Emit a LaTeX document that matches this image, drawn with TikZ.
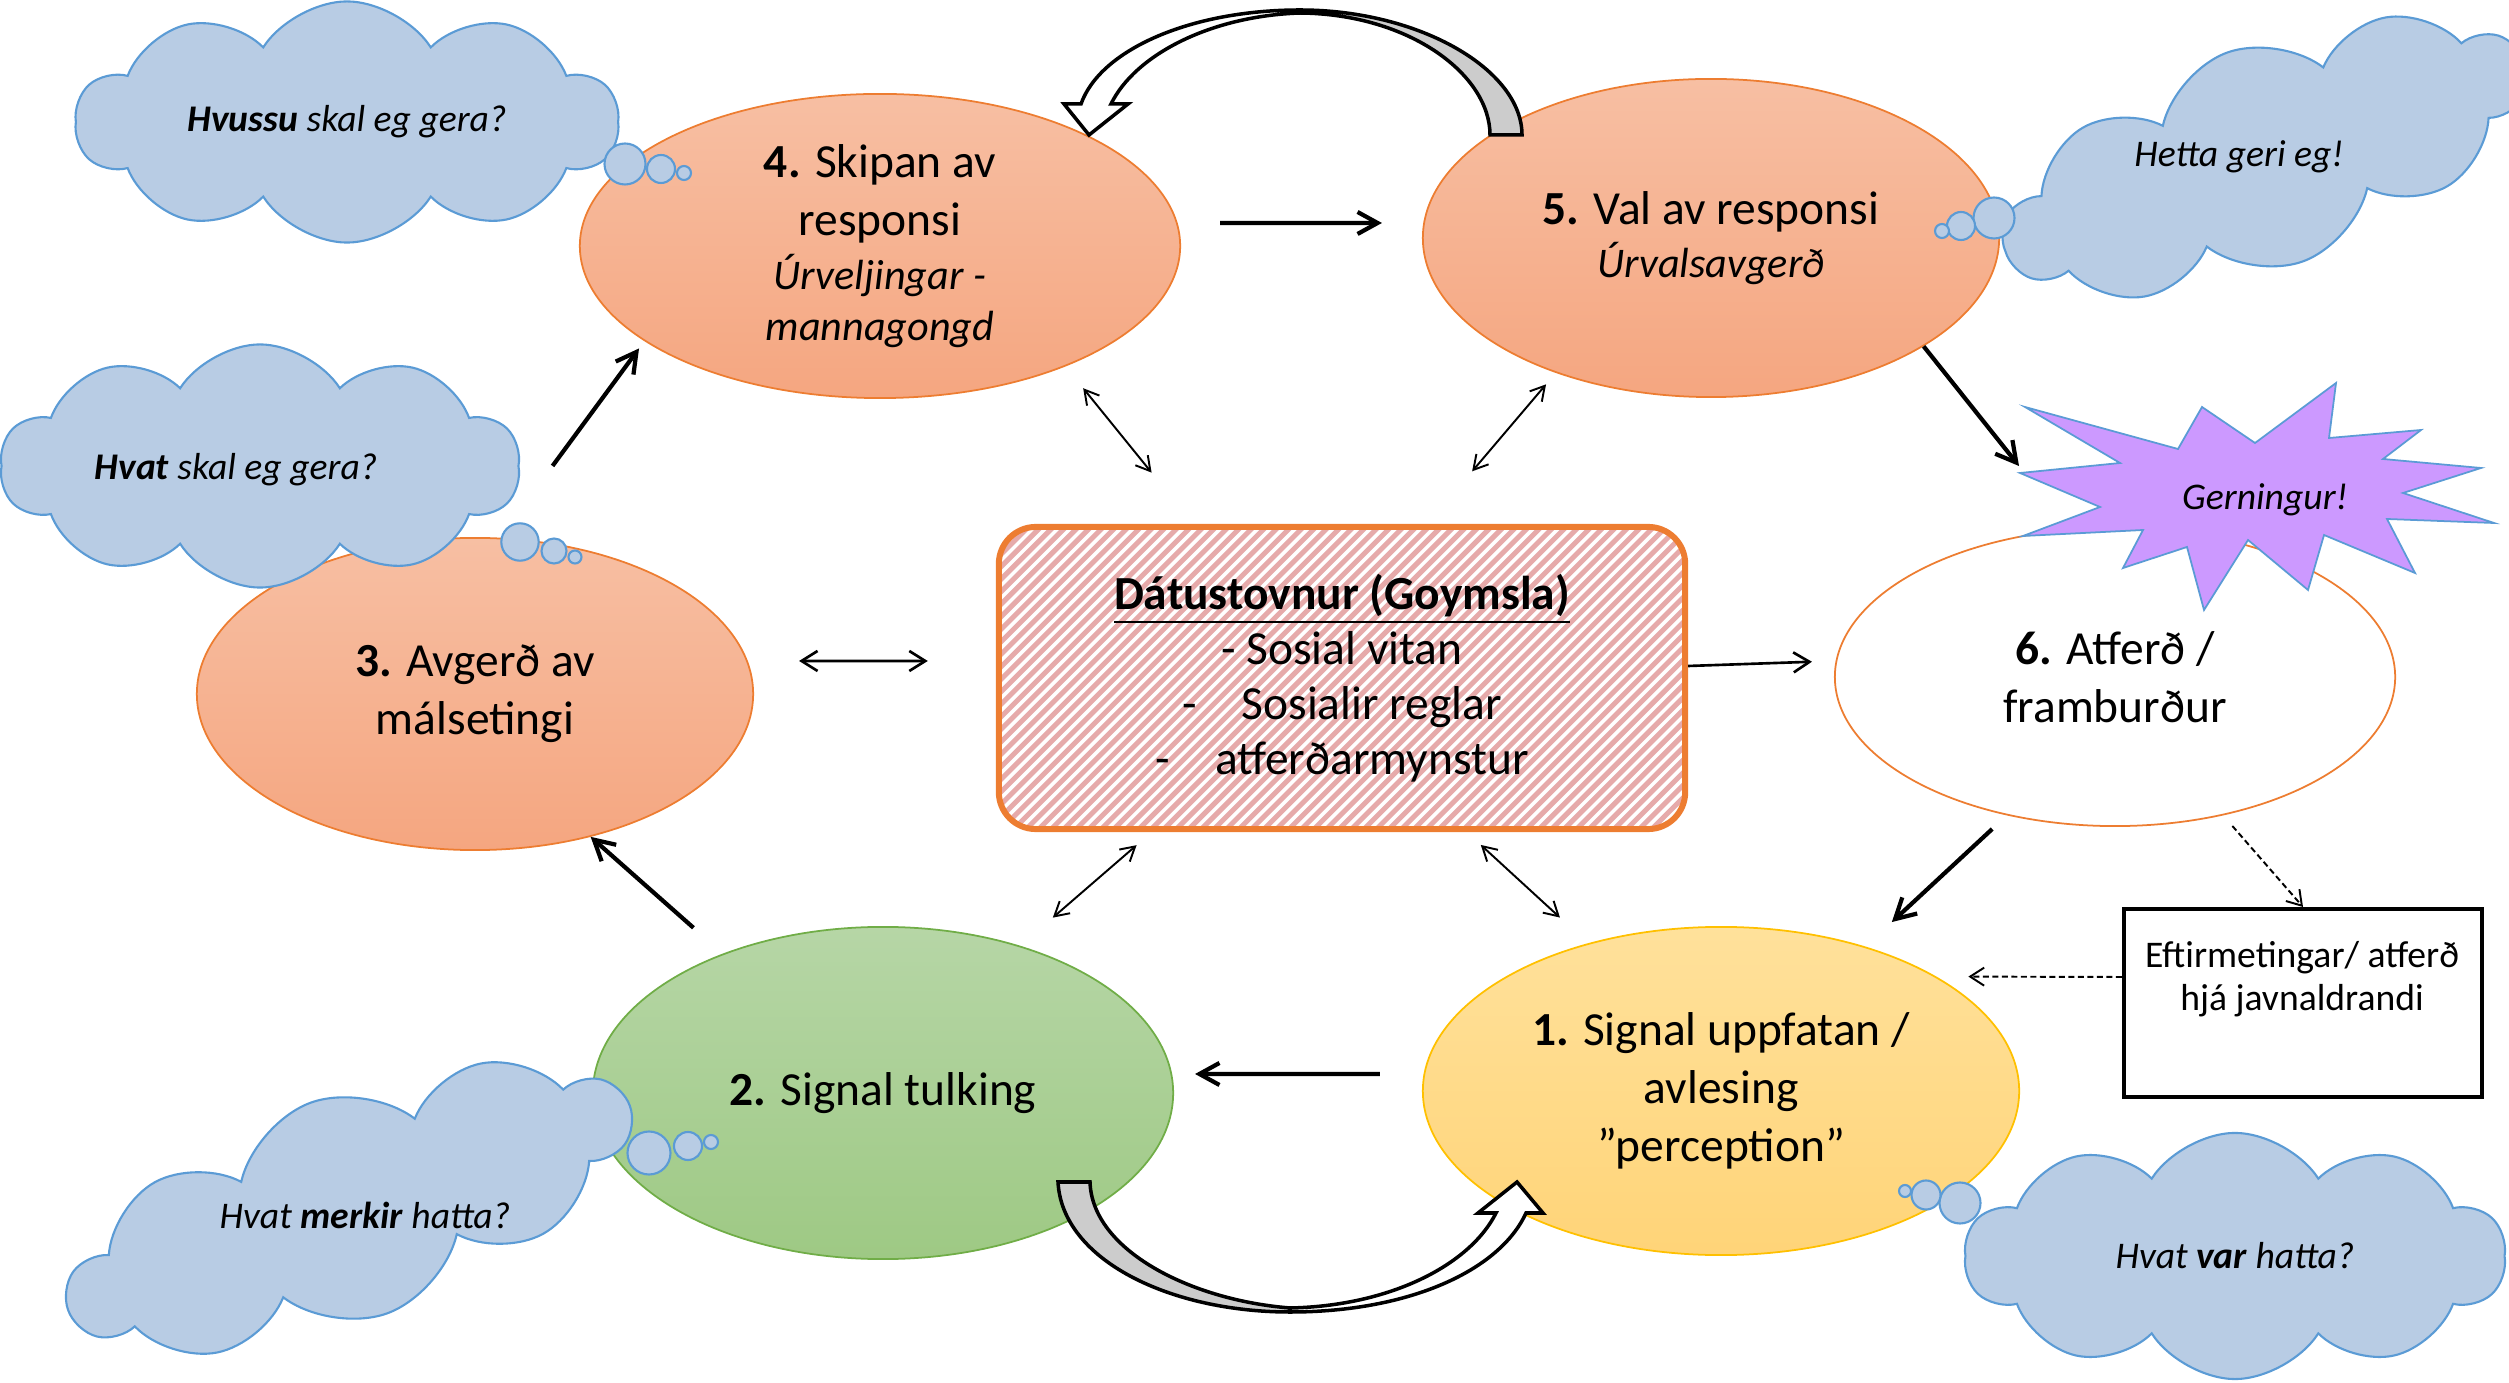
\documentclass[tikz,border=0pt]{standalone}
\usepackage{fontspec}
\setmainfont{Carlito}
\usetikzlibrary{shapes.geometric,shapes.symbols,arrows.meta}

\definecolor{oraline}{RGB}{237,125,49}
\definecolor{oratop}{RGB}{247,191,163}
\definecolor{orabot}{RGB}{245,166,128}
\definecolor{grnline}{RGB}{112,173,71}
\definecolor{grntop}{RGB}{182,214,166}
\definecolor{grnbot}{RGB}{158,201,132}
\definecolor{ylwline}{RGB}{255,192,0}
\definecolor{ylwtop}{RGB}{255,225,155}
\definecolor{ylwbot}{RGB}{255,212,120}
\definecolor{cloudfill}{RGB}{184,204,228}
\definecolor{cloudline}{RGB}{91,155,213}
\definecolor{starfill}{RGB}{204,153,255}
\definecolor{datpink}{RGB}{230,170,170}
\definecolor{bandgray}{RGB}{204,204,204}

\newcommand{\subline}[1]{{\fontsize{12}{14.5}\selectfont\itshape #1}}

\begin{document}
\begin{tikzpicture}[x=0.01cm,y=-0.01cm,
    stage/.style={ellipse,inner sep=0pt,align=center,line width=0.5pt,
      font=\fontsize{13.5}{16.5}\selectfont},
    warm/.style={stage,draw=oraline,top color=oratop,bottom color=orabot},
    hatched/.style={path picture={
      \foreach \s in {0,12.5,...,1070}
        \draw[datpink,line width=1.42pt]
          ([xshift=\s*0.1mm-36mm]path picture bounding box.south west) -- ++(36mm,36mm);}},
    thought/.style={cloud,cloud puffs=10,cloud puff arc=115,cloud ignores aspect,
      draw=cloudline,fill=cloudfill,line width=0.6pt,inner sep=0pt,
      font=\fontsize{10.7}{12.8}\selectfont\itshape},
    thinktext/.style={font=\fontsize{10.7}{12.8}\selectfont\itshape,inner sep=0pt},
    bubble/.style={draw=cloudline,fill=cloudfill,line width=0.6pt},
    cyc/.style={->,line width=1.2pt,>={Straight Barb[length=2mm,width=2.2mm]}},
    link/.style={<->,line width=0.55pt,>={Straight Barb[length=1.4mm,width=1.6mm]}},
    wide/.style={line width=0.75pt,>={Straight Barb[length=1.6mm,width=2mm]}},
    peer/.style={->,line width=0.55pt,dash pattern=on 0.6mm off 0.35mm,
      >={Straight Barb[length=1.4mm,width=1.8mm]}},
    band/.style={draw=black,line width=1pt,line join=miter}]
  \useasboundingbox (0,0) rectangle (2509,1383);

  % the six stages
  \node[warm,minimum width=6cm,minimum height=3.04cm] (skipan) at (880,246)
    {\textbf{4.} Skipan av\\responsi\\[-1pt]\subline{Úrveljingar -}\\[-2pt]\subline{mannagongd}};
  \node[warm,minimum width=5.76cm,minimum height=3.18cm] (val) at (1711,238)
    {\textbf{5.} Val av responsi\\[-1.5pt]\subline{Úrvalsavgerð}};
  \node[warm,minimum width=5.56cm,minimum height=3.12cm] (malset) at (475,694)
    {\textbf{3.} Avgerð av\\málsetingi};
  \node[stage,draw=grnline,top color=grntop,bottom color=grnbot,
    minimum width=5.8cm,minimum height=3.32cm] (tulking) at (883,1093)
    {\textbf{2.} Signal tulking};
  \node[stage,draw=ylwline,top color=ylwtop,bottom color=ylwbot,
    minimum width=5.96cm,minimum height=3.28cm] (uppfatan) at (1721,1091)
    {\textbf{1.} Signal uppfatan /\\avlesing\\”perception”};
  \node[stage,draw=oraline,fill=white,minimum width=5.6cm,minimum height=2.98cm]
    (atferd) at (2115,677) {\textbf{6.} Atferð /\\framburður};

  % storage in the middle
  \node[draw=oraline,line width=1.7pt,rounded corners=3.7mm,fill=white,hatched,
    minimum width=6.86cm,minimum height=3.02cm,align=center,
    font=\fontsize{13.5}{15.6}\selectfont] (dat) at (1342,678)
    {\underline{\textbf{Dátustovnur (Goymsla)}}\\- Sosial vitan\\
     -\hspace{0.95em}Sosialir reglar\\-\hspace{0.95em}atferðarmynstur};

  % peers box
  \node[draw,line width=1.1pt,minimum width=3.58cm,minimum height=1.88cm]
    (eftir) at (2303,1003) {};
  \node[font=\fontsize{10.7}{12.3}\selectfont,align=center,inner sep=0pt]
    (eftirtxt) at (2302,979) {Eftirmetingar/ atferð\\hjá javnaldrandi};

  % big turning arrows
  \filldraw[band,fill=bandgray] (1300,10) .. controls (1420,10) and (1522,70) .. (1522,135)
    -- (1490,135) .. controls (1490,75) and (1410,14) .. (1300,13) -- cycle;
  \filldraw[band,fill=white] (1300,10) .. controls (1190,10) and (1100,50) .. (1081,104)
    -- (1064,104) -- (1089,135) -- (1128,104) -- (1111,104)
    .. controls (1135,55) and (1210,16) .. (1300,13) -- cycle;
  \filldraw[band,fill=bandgray] (1058,1182) .. controls (1062,1260) and (1170,1312) .. (1290,1312)
    -- (1290,1308) .. controls (1190,1300) and (1092,1250) .. (1090,1182) -- cycle;
  \filldraw[band,fill=white] (1290,1312) .. controls (1410,1312) and (1500,1270) .. (1526,1213)
    -- (1543,1213) -- (1517,1182) -- (1478,1213) -- (1496,1213)
    .. controls (1470,1265) and (1390,1306) .. (1290,1308) -- cycle;

  % the cycle
  \coordinate (gernpt) at (2019,466);
  \draw[cyc,shorten <=3.9mm,shorten >=4mm] ([yshift=2.3mm]skipan.east) -- ([yshift=1.5mm]val.west);
  \draw[cyc] (val.-27) -- (gernpt);
  \draw[cyc,shorten <=2mm,shorten >=3.6mm] (atferd.232) -- (uppfatan.45);
  \draw[cyc,shorten <=4.2mm,shorten >=2.1mm] ([yshift=1.7mm]uppfatan.west) -- ([yshift=1.9mm]tulking.east);
  \draw[cyc,shorten <=3.9mm] (tulking.139) -- (malset.-51);
  \draw[cyc,shorten <=8.9mm,shorten >=0.9mm] (malset.81) -- (skipan.202);

  % links to the storage
  \draw[link,shorten <=2.8mm,shorten >=6.6mm] (skipan.-33) -- (dat.134);
  \draw[link,shorten <=1.5mm,shorten >=6.9mm] (val.221) -- (dat.61);
  \draw[link,shorten <=2mm,shorten >=4.3mm] (dat.219) -- (tulking.47);
  \draw[link,shorten <=1.9mm,shorten >=3.8mm] (dat.-51) -- (uppfatan.132);
  \draw[wide,<->,shorten <=4.5mm,shorten >=6.8mm] ([yshift=3.3mm]malset.east) -- ([yshift=1.7mm]dat.west);
  \draw[wide,->,shorten >=2.2mm] ([yshift=1.2mm]dat.east) -- ([yshift=1.6mm]atferd.west);

  % feedback from peers
  \draw[peer,shorten <=1.4mm] (atferd.-52) -- (eftir.north);
  \draw[peer,shorten >=3.2mm] ([yshift=2.6mm]eftir.west) -- (uppfatan.28);

  % thoughts
  \node[thought,minimum width=5.42cm,minimum height=2.41cm] (sky4) at (347,122)
    {\textbf{Hvussu} skal eg gera?};
  \draw[bubble] (625,164) circle[radius=20.5];
  \draw[bubble] (661,169) circle[radius=14];
  \draw[bubble] (684,173) circle[radius=7];
  \node[thought,minimum width=5.19cm,minimum height=2.43cm] (sky3) at (260,466) {};
  \node[thinktext] (sky3t) at (236,470) {\textbf{Hvat} skal eg gera?};
  \draw[bubble] (520,542) circle[radius=18.7];
  \draw[bubble] (554,551) circle[radius=12.5];
  \draw[bubble] (575,557) circle[radius=6.5];
  \node[thought,rotate=20,minimum width=5.48cm,minimum height=2.22cm] (sky5) at (2265,157) {};
  \node[thinktext] (sky5t) at (2239,157) {Hetta geri eg!};
  \draw[bubble] (1994,218) circle[radius=20.5];
  \draw[bubble] (1961,226) circle[radius=14];
  \draw[bubble] (1942,231) circle[radius=7];
  \node[thought,rotate=20,minimum width=5.9cm,minimum height=2.24cm] (sky2) at (349,1208) {};
  \node[thinktext] (sky2t) at (365,1215) {Hvat \textbf{merkir} hatta?};
  \draw[bubble] (649,1153) circle[radius=21.5];
  \draw[bubble] (688,1146) circle[radius=14];
  \draw[bubble] (711,1142) circle[radius=7];
  \node[thought,minimum width=5.4cm,minimum height=2.46cm] (sky1) at (2235,1256)
    {Hvat \textbf{var} hatta?};
  \draw[bubble] (1960,1203) circle[radius=20.5];
  \draw[bubble] (1926,1195) circle[radius=14.5];
  \draw[bubble] (1905,1191) circle[radius=6];

  % the act
  \filldraw[fill=starfill,draw=cloudline,line width=0.5pt] (2025,407) -- (2178,449) -- (2202,407)
    -- (2255,443) -- (2336,383) -- (2329,438) -- (2421,430) -- (2383,459) -- (2481,468)
    -- (2403,493) -- (2494,523) -- (2387,519) -- (2415,573) -- (2324,535) -- (2308,590)
    -- (2248,540) -- (2204,610) -- (2187,547) -- (2123,568) -- (2143,530) -- (2023,536)
    -- (2100,507) -- (2020,473) -- (2120,463) -- cycle;
  \node[thinktext] (gern) at (2265,500) {Gerningur!};
\end{tikzpicture}
\end{document}
